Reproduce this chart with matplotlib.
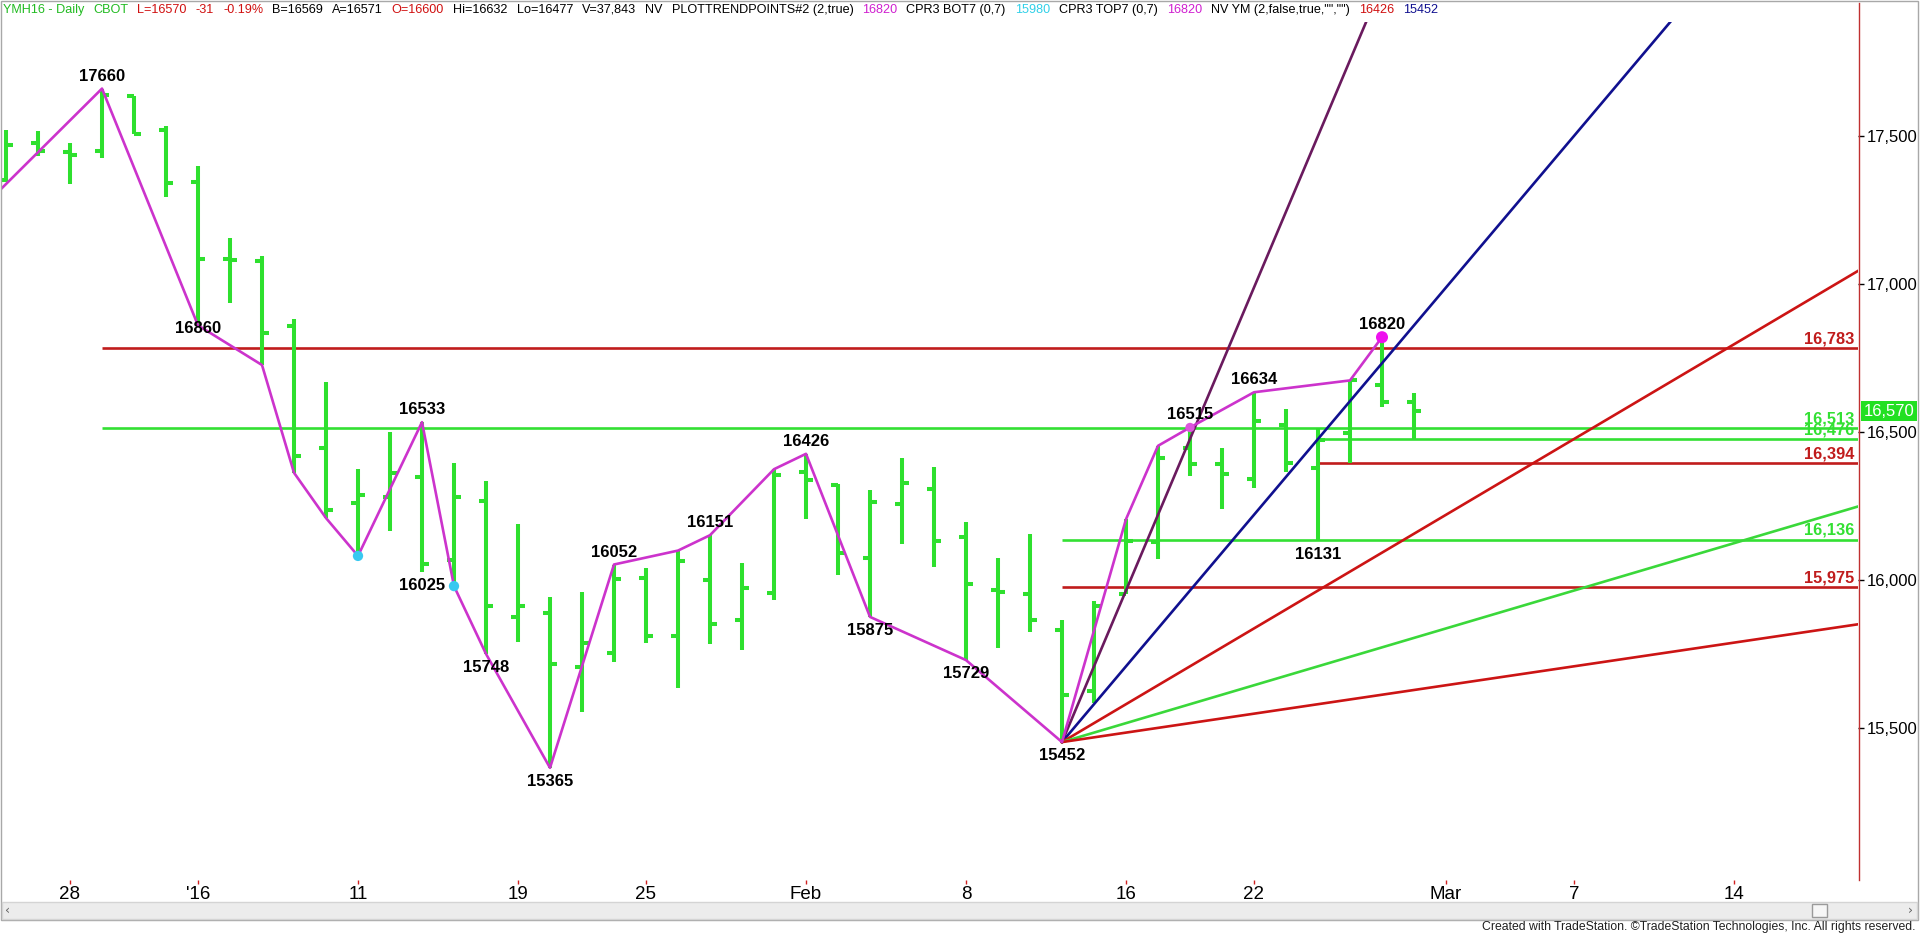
"""
YM (mini Dow) March 2016 daily bar chart with swing pivots, Gann fan
and support / resistance levels, TradeStation style.
"""

import matplotlib
matplotlib.use("Agg")

import matplotlib.pyplot as plt
import pandas as pd
from matplotlib.lines import Line2D
from matplotlib.patches import Rectangle
from matplotlib.ticker import FuncFormatter

W, H, DPI = 1920, 934, 100
NARROW = ["Liberation Sans Narrow", "Liberation Sans", "DejaVu Sans"]
ARIAL = ["Liberation Sans", "DejaVu Sans"]

# ---- data -----------------------------------------------------------------
holidays = ["2015-12-25", "2016-01-01", "2016-01-18", "2016-02-15"]
opens = [17351, 17477, 17447, 17450, 17635, 17520, 17344, 17084, 17079, 16857,
         16445, 16259, 16279, 16346, 16068, 16265, 15874, 15887, 15707, 15752,
         16005, 15811, 16000, 15863, 15955, 16366, 16321, 16073, 16256, 16307,
         16144, 15966, 15953, 15831, 15626, 15953, 16129, 16445, 16392, 16341,
         16525, 16378, 16496, 16659, 16600]
highs = [17520, 17516, 17477, 17660, 17635, 17534, 17400, 17154, 17094, 16883,
         16669, 16374, 16501, 16533, 16394, 16333, 16189, 15941, 15958, 16052,
         16039, 16099, 16151, 16056, 16374, 16426, 16324, 16304, 16412, 16383,
         16197, 16073, 16154, 15865, 15929, 16205, 16453, 16515, 16445, 16634,
         16577, 16513, 16674, 16820, 16632]
lows = [17344, 17432, 17336, 17426, 17506, 17295, 16860, 16934, 16726, 16362,
        16209, 16081, 16166, 16025, 15980, 15748, 15789, 15365, 15555, 15721,
        15786, 15634, 15783, 15764, 15932, 16206, 16017, 15875, 16121, 16042,
        15729, 15770, 15823, 15452, 15585, 15953, 16071, 16351, 16239, 16310,
        16366, 16131, 16394, 16584, 16477]
closes = [17470, 17450, 17434, 17639, 17506, 17340, 17084, 17082, 16835, 16419,
          16236, 16287, 16360, 16053, 16279, 15912, 15912, 15716, 15786, 16002,
          15811, 16063, 15851, 15973, 16355, 16338, 16090, 16263, 16327, 16131,
          15985, 15958, 15866, 15611, 15912, 16133, 16411, 16392, 16358, 16537,
          16394, 16473, 16674, 16600, 16570]

# swing line (bar index, price); first point lies left of the visible range
swing_idx = [-1, 3, 6, 8, 9, 10, 11, 13, 14, 15, 17, 19, 21, 22, 24, 25, 27,
             30, 33, 35, 36, 37, 39, 42, 43]
swing_px = [17230, 17660, 16860, 16726, 16362, 16209, 16081, 16533, 15979,
            15750, 15365, 16052, 16099, 16151, 16374, 16426, 15875, 15729,
            15452, 16205, 16453, 16515, 16634, 16674, 16820]

pivot_idx = [3, 6, 13, 13, 15, 17, 19, 22, 25, 27, 30, 33, 37, 39, 41, 43]
pivot_px = [17660, 16860, 16533, 16025, 15748, 15365, 16052, 16151, 16426,
            15875, 15729, 15452, 16515, 16634, 16131, 16820]
pivot_side = ["up", "on", "up", "dn", "dn", "dn", "up", "up", "up",
              "dn", "dn", "dn", "up", "up", "dn", "up"]

bot_dot_idx = [11, 14]
bot_dot_px = [16081, 15979]
top_dot_idx = [37, 43]
top_dot_px = [16515, 16820]

fan_idx = 33
fan_px = 15452
fan_slopes = [256, 128, 64, 32, 16]           # points per bar
fan_colors = ["#6a1a5e", "#10108f", "#cc1414", "#3ad83a", "#cc1414"]

level_px = [16783, 16513, 16476, 16394, 16136, 15975]
level_start = [3, 3, 41, 41, 33, 33]
level_colors = ["#c01c1c", "#33e033", "#33e033", "#c01c1c", "#33e033", "#c01c1c"]

last_price = 16570
yticks = [15500, 16000, 16500, 17000, 17500]
tick_dates = ["2015-12-28", "2016-01-04", "2016-01-11", "2016-01-19",
              "2016-01-25", "2016-02-01", "2016-02-08", "2016-02-16",
              "2016-02-22", "2016-03-01", "2016-03-07", "2016-03-14"]
tick_labels = ["28", "'16", "11", "19", "25", "Feb", "8", "16", "22", "Mar",
               "7", "14"]

header = [
    ("YMH16 - Daily", "#22bb22"), ("CBOT", "#22bb22"),
    ("L=16570", "#d01010"), ("-31", "#d01010"), ("-0.19%", "#d01010"),
    ("B=16569", "black"), ("A=16571", "black"), ("O=16600", "#d01010"),
    ("Hi=16632", "black"), ("Lo=16477", "black"), ("V=37,843", "black"),
    ("NV", "black"), ("PLOTTRENDPOINTS#2 (2,true)", "black"),
    ("16820", "#d020d0"), ("CPR3 BOT7 (0,7)", "black"),
    ("15980", "#30d0e8"), ("CPR3 TOP7 (0,7)", "black"),
    ("16820", "#d020d0"), ('NV YM (2,false,true,"","")', "black"),
    ("16426", "#d01010"), ("15452", "#10108f"),
]

# trading calendar -> bar index
days = pd.bdate_range("2015-12-23", "2016-03-31", freq="C", holidays=holidays)
day_pos = {d: i for i, d in enumerate(days)}
tick_pos = [day_pos[pd.Timestamp(d)] for d in tick_dates]

BAR = "#2ee02e"

fig = plt.figure(figsize=(W / DPI, H / DPI), dpi=DPI)
fig.patch.set_facecolor("white")

# plot area in pixels: x 2..1858, y 22..880
ax = fig.add_axes([2 / W, (H - 880) / H, 1856 / W, 858 / H])
ax.set_facecolor("white")
x_lo, x_hi = -0.125, 57.875
ax.set_xlim(x_lo, x_hi)
ax.set_ylim(14986, 17885)
for s in ax.spines.values():
    s.set_visible(False)

# support / resistance levels
for p, st, c in zip(level_px, level_start, level_colors):
    ax.plot([st, x_hi], [p, p], color=c, lw=1.9, zorder=2, solid_capstyle="butt")
    ax.annotate(f"{p:,}", xy=(1, p), xycoords=("axes fraction", "data"),
                xytext=(-4, 2), textcoords="offset pixels", ha="right",
                va="bottom", color=c, fontsize=11.8, fontweight="bold",
                family=ARIAL, zorder=6)

# OHLC bars
n = len(closes)
xs = list(range(n))
tick = 0.22
ax.vlines(xs, lows, highs, color=BAR, lw=2.9, zorder=3)
ax.hlines(opens, [x - tick for x in xs], xs, color=BAR, lw=2.9, zorder=3)
ax.hlines(closes, xs, [x + tick for x in xs], color=BAR, lw=2.9, zorder=3)

# Gann fan from the February low
for s, c in zip(fan_slopes, fan_colors):
    ax.plot([fan_idx, x_hi], [fan_px, fan_px + s * (x_hi - fan_idx)],
            color=c, lw=1.9, zorder=4)

# swing line and markers
ax.plot(swing_idx, swing_px, color="#cc33cc", lw=1.9, zorder=5)
ax.scatter(bot_dot_idx, bot_dot_px, s=55, color="#38c8f0", zorder=6,
           edgecolors="none")
ax.scatter(top_dot_idx[:1], top_dot_px[:1], s=45, color="#dd55dd", zorder=6,
           edgecolors="none")
ax.scatter(top_dot_idx[1:], top_dot_px[1:], s=75, color="#ee11ee", zorder=6,
           edgecolors="none")

for xi, p, side in zip(pivot_idx, pivot_px, pivot_side):
    if side == "up":
        off, va = 5, "bottom"
    elif side == "dn":
        off, va = -6, "top"
    else:
        off, va = -3, "center"
    ax.annotate(str(p), xy=(xi, p), xytext=(0, off), textcoords="offset pixels",
                ha="center", va=va, fontsize=12, fontweight="bold",
                family=ARIAL, color="black", zorder=7)

# last price box on the scale
ax.annotate(f"{last_price:,}", xy=(1, last_price),
            xycoords=("axes fraction", "data"), xytext=(6, 0),
            textcoords="offset pixels", ha="left", va="center", color="white",
            fontsize=12, family=ARIAL, annotation_clip=False, zorder=8,
            bbox=dict(boxstyle="square,pad=0.16", fc="#22e022", ec="none"))

# axes ticks
ax.yaxis.tick_right()
ax.set_yticks(yticks)
ax.yaxis.set_major_formatter(FuncFormatter(lambda v, _: f"{int(v):,}"))
ax.tick_params(axis="y", length=4, width=1, color="black", pad=2,
               labelsize=12)
ax.set_xticks(tick_pos)
ax.set_xticklabels(tick_labels)
ax.tick_params(axis="x", length=3, width=1, color="#d02020", pad=1,
               labelsize=13.5)
for lab in ax.get_xticklabels() + ax.get_yticklabels():
    lab.set_family(ARIAL)

# frame: right scale border, outer grey border, scroll bar
fig.add_artist(Line2D([1858.5 / W] * 2, [1 - 3 / H, 1 - 880 / H],
                      color="#c03030", lw=1))
fig.add_artist(Rectangle((1 / W, 1 - 920 / H), 1917 / W, 919 / H,
                         transform=fig.transFigure, fill=False,
                         ec="#a8a8a8", lw=1))
fig.add_artist(Rectangle((2 / W, 1 - 919 / H), 1915 / W, 17 / H,
                         transform=fig.transFigure, fc="#ececec",
                         ec="#d4d4d4", lw=1))
fig.add_artist(Rectangle((1812 / W, 1 - 917 / H), 15 / W, 13 / H,
                         transform=fig.transFigure, fc="#f6f6f6",
                         ec="#9a9a9a", lw=1))
fig.text(8 / W, 1 - 910 / H, "\u2039", fontsize=9, color="#606060",
         ha="center", va="center")
fig.text(1910 / W, 1 - 910 / H, "\u203a", fontsize=9, color="#606060",
         ha="center", va="center")

fig.text(1916 / W, 1 - 927 / H,
         "Created with TradeStation. \u00a9TradeStation Technologies, Inc. "
         "All rights reserved.", ha="right", va="center", fontsize=8.8,
         family=NARROW, color="#202020")

# header line, laid out piece by piece and fitted to its width in the source
renderer = fig.canvas.get_renderer()


def lay_out(size, gap, draw=False):
    x = 3.0
    for txt, col in header:
        t = fig.text(x / W, 1 - 10 / H, txt, color=col, fontsize=size,
                     family=NARROW, ha="left", va="center")
        w = t.get_window_extent(renderer).width
        if not draw:
            t.remove()
        x += w + gap
    return x - gap


size = 11.0
end = lay_out(size, 9)
size = size * (1434 - 3 - 9 * (len(header) - 1)) / (end - 3 - 9 * (len(header) - 1))
lay_out(size, 9, draw=True)

fig.savefig("out.png", dpi=DPI, facecolor="white")
